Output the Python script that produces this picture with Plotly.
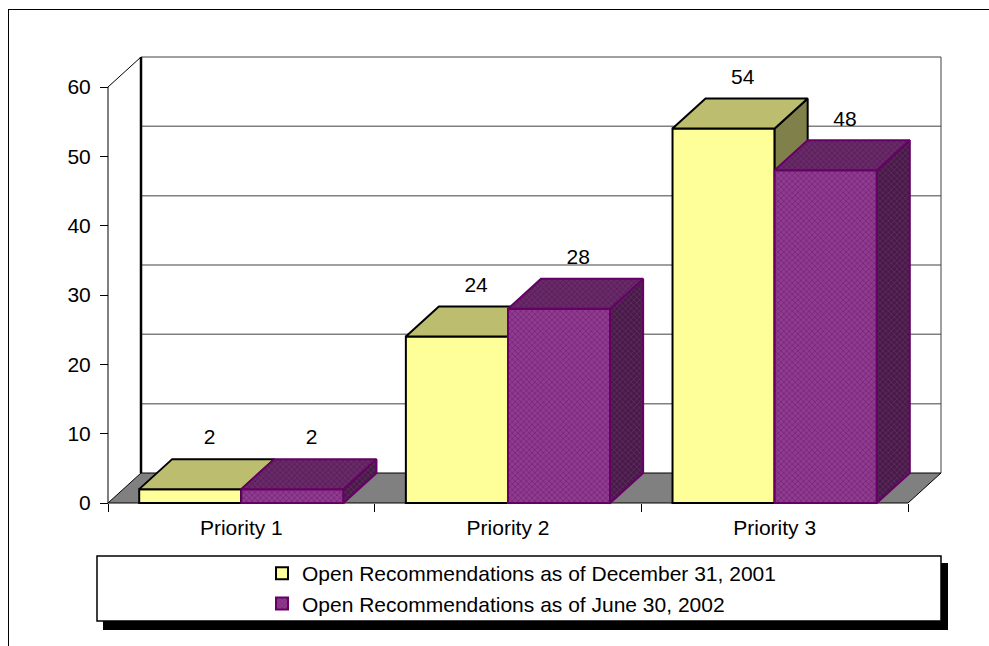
import plotly.graph_objects as go

# ---------------- data ----------------
categories = ["Priority 1", "Priority 2", "Priority 3"]
dec_2001 = [2, 24, 54]
jun_2002 = [2, 28, 48]
series_names = ["Open Recommendations as of December 31, 2001",
                "Open Recommendations as of June 30, 2002"]
y_ticks = [0, 10, 20, 30, 40, 50, 60]

# ---------------- geometry / style ----------------
W, H = 989, 646
FONT = "Liberation Sans, Arial, sans-serif"
FS = 21

PX_X = 800 / 3          # pixels per category unit
PX_Y = 416 / 60         # pixels per value unit
DX = 33 / PX_X          # 3-D depth offset (x, data units)
DY = 30 / PX_Y          # 3-D depth offset (y, data units)
PADX = 3 / PX_X
PADY = 3 / PX_Y
BW = 0.383              # bar width (category units)
YMAX = 60
LBL_DX = 0.072
LBL_DY = 7.2

xr0, xr1 = -0.5 - PADX, 2.5 + DX + PADX
yr0, yr1 = -PADY, YMAX + DY + PADY

ML = 105
MB = 140
PW = (xr1 - xr0) * PX_X
PH = (yr1 - yr0) * PX_Y
MR = W - ML - PW
MT = H - MB - PH


def paper_x(px):
    return (px - ML) / PW


def paper_y(py):
    return (H - MB - py) / PH


fig = go.Figure()

# ---------------- walls & floor (base subplot) ----------------
x_back0, x_back1 = -0.5 + DX, 2.5 + DX
fig.add_trace(go.Scatter(
    x=[x_back0, x_back1, x_back1, x_back0, x_back0],
    y=[DY, DY, YMAX + DY, YMAX + DY, DY],
    fill="toself", fillcolor="white", mode="lines", line=dict(width=0),
    showlegend=False, hoverinfo="skip"))

gx, gy = [], []
for v in y_ticks[1:-1]:
    gx += [x_back0, x_back1, None]
    gy += [v + DY, v + DY, None]
fig.add_trace(go.Scatter(x=gx, y=gy, mode="lines",
                         line=dict(color="#808080", width=1.5),
                         showlegend=False, hoverinfo="skip", cliponaxis=False))
# top & right edges of back wall
fig.add_trace(go.Scatter(x=[x_back0, x_back1, x_back1], y=[YMAX + DY, YMAX + DY, DY],
                         mode="lines", line=dict(color="#404040", width=1),
                         showlegend=False, hoverinfo="skip", cliponaxis=False))
# left wall edge
fig.add_trace(go.Scatter(x=[x_back0, x_back0], y=[DY, YMAX + DY], mode="lines",
                         line=dict(color="black", width=2.5),
                         showlegend=False, hoverinfo="skip", cliponaxis=False))
# floor
fig.add_trace(go.Scatter(
    x=[-0.5, x_back0, x_back1, 2.5, -0.5],
    y=[0, DY, DY, 0, 0],
    fill="toself", fillcolor="#808080", mode="lines",
    line=dict(color="black", width=1),
    showlegend=False, hoverinfo="skip", cliponaxis=False))
# front value axis line + diagonal to back wall
fig.add_trace(go.Scatter(x=[-0.5, -0.5, x_back0], y=[0, YMAX, YMAX + DY], mode="lines",
                         line=dict(color="black", width=1),
                         showlegend=False, hoverinfo="skip", cliponaxis=False))


# ---------------- bars (pseudo 3-D) ----------------
def add_series(vals, name, offset, xa, ya, front, top, side, edge, patterns):
    fig.add_trace(go.Bar(
        x=list(range(len(vals))), y=vals, width=BW, offset=offset,
        name=name, xaxis=xa, yaxis=ya,
        marker=dict(color=front, line=dict(color=edge, width=2),
                    pattern=patterns[0]),
        showlegend=True, hoverinfo="skip"))
    tx, ty, sx, sy = [], [], [], []
    for i, v in enumerate(vals):
        xl = i + offset
        xr = xl + BW
        tx += [xl, xr, xr + DX, xl + DX, xl, None]
        ty += [v, v, v + DY, v + DY, v, None]
        sx += [xr, xr + DX, xr + DX, xr, xr, None]
        sy += [0, DY, v + DY, v, 0, None]
    fig.add_trace(go.Scatter(x=sx, y=sy, fill="toself", fillcolor=side, mode="lines",
                             line=dict(color=edge, width=2), xaxis=xa, yaxis=ya,
                             fillpattern=patterns[2],
                             showlegend=False, hoverinfo="skip"))
    fig.add_trace(go.Scatter(x=tx, y=ty, fill="toself", fillcolor=top, mode="lines",
                             line=dict(color=edge, width=2), xaxis=xa, yaxis=ya,
                             fillpattern=patterns[1],
                             showlegend=False, hoverinfo="skip"))
    fig.add_trace(go.Scatter(
        x=[i + offset + BW / 2 + LBL_DX for i in range(len(vals))],
        y=[v + LBL_DY for v in vals],
        text=[str(v) for v in vals], mode="text",
        textfont=dict(family=FONT, size=FS, color="black"),
        xaxis=xa, yaxis=ya, showlegend=False, hoverinfo="skip", cliponaxis=False))


add_series(dec_2001, series_names[0], -BW, "x2", "y2",
           "#FFFF99", "#BDBD70", "#80804A", "black", [None, None, None])

pp = dict(shape="x", size=4, solidity=0.3, fillmode="replace")
add_series(jun_2002, series_names[1], 0.0, "x3", "y3",
           "#8E368E", "#6A286A", "#481A48", "#660066",
           [dict(pp, bgcolor="#913A91", fgcolor="#6A246A"),
            dict(pp, bgcolor="#6A2A6A", fgcolor="#501A50"),
            dict(pp, bgcolor="#481A48", fgcolor="#663366")])

# ---------------- axes ----------------
x_pos = paper_y(503)
y_pos = paper_x(108)
tickfont = dict(family=FONT, size=FS, color="black")
fig.update_layout(
    width=W, height=H,
    margin=dict(l=ML, r=MR, t=MT, b=MB, pad=0),
    paper_bgcolor="white", plot_bgcolor="white",
    font=dict(family=FONT, size=FS, color="black"),
    xaxis=dict(range=[xr0, xr1], tickvals=[-0.5, 0.5, 1.5, 2.5], ticks="outside",
               ticklen=8, tickcolor="black", tickwidth=1, showticklabels=False,
               showgrid=False, zeroline=False, showline=False,
               anchor="free", position=x_pos),
    yaxis=dict(range=[yr0, yr1], tickvals=y_ticks, ticks="outside", ticklen=8,
               tickcolor="black", tickwidth=1, tickfont=tickfont,
               showgrid=False, zeroline=False, showline=False,
               anchor="free", position=y_pos, ticklabelstandoff=5),
    xaxis2=dict(range=[xr0, xr1], overlaying="x", tickvals=[0, 1, 2],
                ticktext=categories, ticks="", tickfont=tickfont,
                showgrid=False, zeroline=False, showline=False,
                anchor="free", position=x_pos, ticklabelstandoff=10),
    yaxis2=dict(range=[yr0, yr1], overlaying="y", visible=False),
    xaxis3=dict(range=[xr0, xr1], overlaying="x", visible=False),
    yaxis3=dict(range=[yr0, yr1], overlaying="y", visible=False),
    legend=dict(x=paper_x(262), y=paper_y(553), xanchor="left", yanchor="top",
                bgcolor="rgba(0,0,0,0)", borderwidth=0,
                font=dict(family=FONT, size=FS, color="black"),
                traceorder="normal", itemwidth=30),
    barmode="overlay",
)

# ---------------- frame, legend box ----------------
shapes = [
    dict(type="line", xref="paper", yref="paper",
         x0=paper_x(8), x1=paper_x(1000), y0=paper_y(9.5), y1=paper_y(9.5),
         line=dict(color="black", width=1)),
    dict(type="line", xref="paper", yref="paper",
         x0=paper_x(8.5), x1=paper_x(8.5), y0=paper_y(9), y1=paper_y(660),
         line=dict(color="black", width=1)),
    dict(type="rect", xref="paper", yref="paper",
         x0=paper_x(103), x1=paper_x(948), y0=paper_y(563), y1=paper_y(630),
         fillcolor="black", line=dict(width=0), layer="above"),
    dict(type="rect", xref="paper", yref="paper",
         x0=paper_x(97), x1=paper_x(941), y0=paper_y(556), y1=paper_y(621),
         fillcolor="white", line=dict(color="black", width=1.5), layer="above"),
]
fig.update_layout(shapes=shapes)

fig.write_html("out.html")
